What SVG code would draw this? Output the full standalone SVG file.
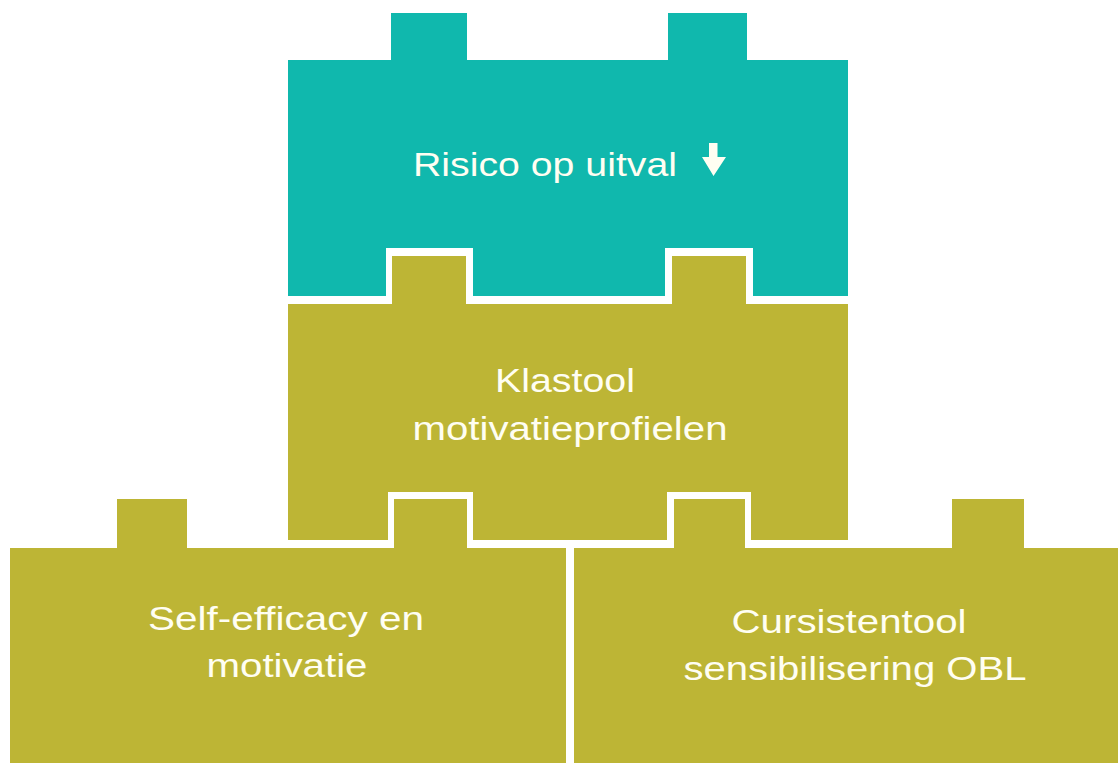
<svg xmlns="http://www.w3.org/2000/svg" width="1118" height="763" viewBox="0 0 1118 763">
  <style>
    .teal { fill: #10B8AD; }
    .olive { fill: #BDB535; }
    .lbl { font-family: "Liberation Sans", Arial, sans-serif; font-size: 34px; fill: #FFFEF2; text-anchor: middle; }
  </style>
  <rect width="1118" height="763" fill="#FFFFFF"/>
  <g id="connectors"/>
  <g id="node-risico">
    <path class="teal" d="M288,60 H391 V13 H467 V60 H668 V13 H747 V60 H848 V296 H753 V248 H665 V296 H473 V248 H386 V296 H288 Z"/>
    <text class="lbl" x="545" y="176" textLength="264" lengthAdjust="spacingAndGlyphs">Risico op uitval</text>
    <path fill="#FFFEF2" d="M709,143 H717.5 V157 H726 L713.5,176 L702,157 H709 Z"/>
  </g>
  <g id="node-klastool">
    <path class="olive" d="M288,304 H392 V256 H466 V304 H672 V256 H746 V304 H848 V540 H751 V492 H667 V540 H473 V492 H388 V540 H288 Z"/>
    <text class="lbl" x="565" y="392" textLength="140" lengthAdjust="spacingAndGlyphs">Klastool</text>
    <text class="lbl" x="570" y="440" textLength="315" lengthAdjust="spacingAndGlyphs">motivatieprofielen</text>
  </g>
  <g id="node-selfefficacy">
    <path class="olive" d="M10,548 H117 V499 H187 V548 H394 V499 H467 V548 H566 V763 H10 Z"/>
    <text class="lbl" x="286" y="630" textLength="276" lengthAdjust="spacingAndGlyphs">Self-efficacy en</text>
    <text class="lbl" x="287" y="677" textLength="161" lengthAdjust="spacingAndGlyphs">motivatie</text>
  </g>
  <g id="node-cursistentool">
    <path class="olive" d="M574,548 H674 V499 H745 V548 H952 V499 H1024 V548 H1118 V763 H574 Z"/>
    <text class="lbl" x="849" y="633" textLength="235" lengthAdjust="spacingAndGlyphs">Cursistentool</text>
    <text class="lbl" x="855" y="680" textLength="343" lengthAdjust="spacingAndGlyphs">sensibilisering OBL</text>
  </g>
</svg>
